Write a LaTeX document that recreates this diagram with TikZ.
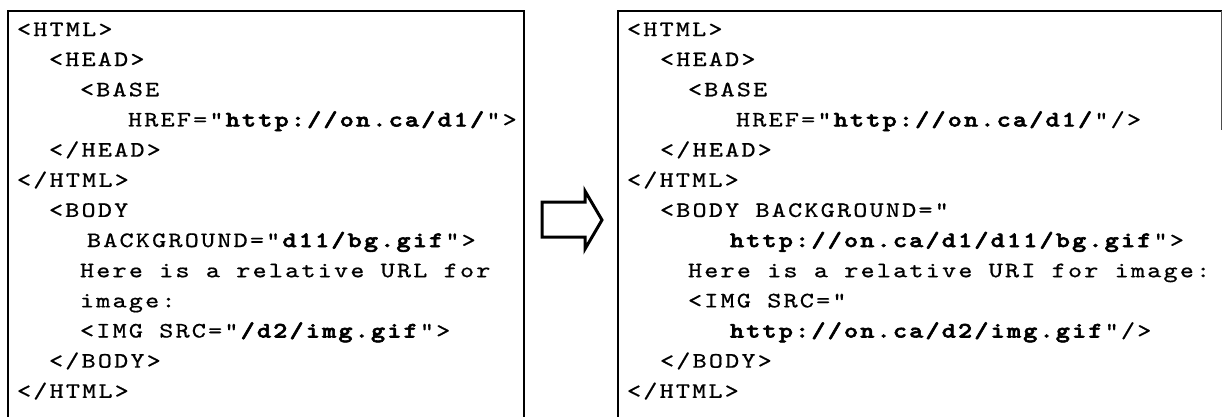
\documentclass[tikz,border=0pt]{standalone}
\usepackage{fontspec}
% Courier-like slab-serif typewriter face, widened to the listing's pitch
\newfontfamily\codefont{lmmono10-regular}[
  Extension=.otf,
  BoldFont=lmmonolt10-bold,
  FakeStretch=1.22,
  LetterSpace=10,
  UprightFeatures={FakeBold=0.7},
  BoldFeatures={FakeBold=2.6}]
\tikzset{
  code/.style={anchor=base west, inner sep=0pt, outer sep=0pt,
               font=\codefont\fontsize{22}{22}\selectfont},
  frame/.style={line width=2.6pt, line cap=rect},
  thinframe/.style={line width=1pt, draw=black!70},
  blockarrow/.style={line width=3pt, line join=miter}
}
\newcommand\uri[1]{\textbf{#1}}
\begin{document}
\begin{tikzpicture}[x=1pt, y=-1pt]
  \useasboundingbox (0,0) rectangle (1222,416);
  \def\ls{30.15}
  % source document frame (open at the bottom)
  \draw[frame] (8,416) -- (8,11) -- (524,11) -- (524,416);
  % resolved document frame
  \draw[frame] (618,416) -- (618,11) -- (1221,11);
  \draw[thinframe] (1221,11) -- (1221,130);
  % source markup
  \node[code] (l1)  at (17, 36+0*\ls)  {<HTML>};
  \node[code] (l2)  at (49, 36+1*\ls)  {<HEAD>};
  \node[code] (l3)  at (80, 36+2*\ls)  {<BASE};
  \node[code] (l4)  at (128,36+3*\ls)  {HREF="\uri{http://on.ca/d1/}">};
  \node[code] (l5)  at (49, 36+4*\ls)  {</HEAD>};
  \node[code] (l6)  at (17, 36+5*\ls)  {</HTML>};
  \node[code] (l7)  at (49, 36+6*\ls)  {<BODY};
  \node[code] (l8)  at (87, 36+7*\ls)  {BACKGROUND="\uri{d11/bg.gif}">};
  \node[code] (l9)  at (80, 36+8*\ls)  {Here is a relative URL for};
  \node[code] (l10) at (80, 36+9*\ls)  {image:};
  \node[code] (l11) at (80, 36+10*\ls) {<IMG SRC="\uri{/d2/img.gif}">};
  \node[code] (l12) at (49, 36+11*\ls) {</BODY>};
  \node[code] (l13) at (17, 36+12*\ls) {</HTML>};
  % resolved markup
  \node[code] (r1)  at (627,36+0*\ls)  {<HTML>};
  \node[code] (r2)  at (660,36+1*\ls)  {<HEAD>};
  \node[code] (r3)  at (688,36+2*\ls)  {<BASE};
  \node[code] (r4)  at (736,36+3*\ls)  {HREF="\uri{http://on.ca/d1/}"/>};
  \node[code] (r5)  at (660,36+4*\ls)  {</HEAD>};
  \node[code] (r6)  at (627,36+5*\ls)  {</HTML>};
  \node[code] (r7)  at (660,36+6*\ls)  {<BODY BACKGROUND="};
  \node[code] (r8)  at (730,36+7*\ls)  {\uri{http://on.ca/d1/d11/bg.gif}">};
  \node[code] (r9)  at (688,36+8*\ls)  {Here is a relative URI for image:};
  \node[code] (r10) at (688,36+9*\ls)  {<IMG SRC="};
  \node[code] (r11) at (730,36+10*\ls) {\uri{http://on.ca/d2/img.gif}"/>};
  \node[code] (r12) at (660,36+11*\ls) {</BODY>};
  \node[code] (r13) at (627,36+12*\ls) {</HTML>};
  % hollow block arrow between the two documents
  \draw[blockarrow] (542,202) -- (585,202) -- (585,191) -- (602,220)
        -- (585,249) -- (585,237) -- (542,237) -- cycle;
\end{tikzpicture}
\end{document}
